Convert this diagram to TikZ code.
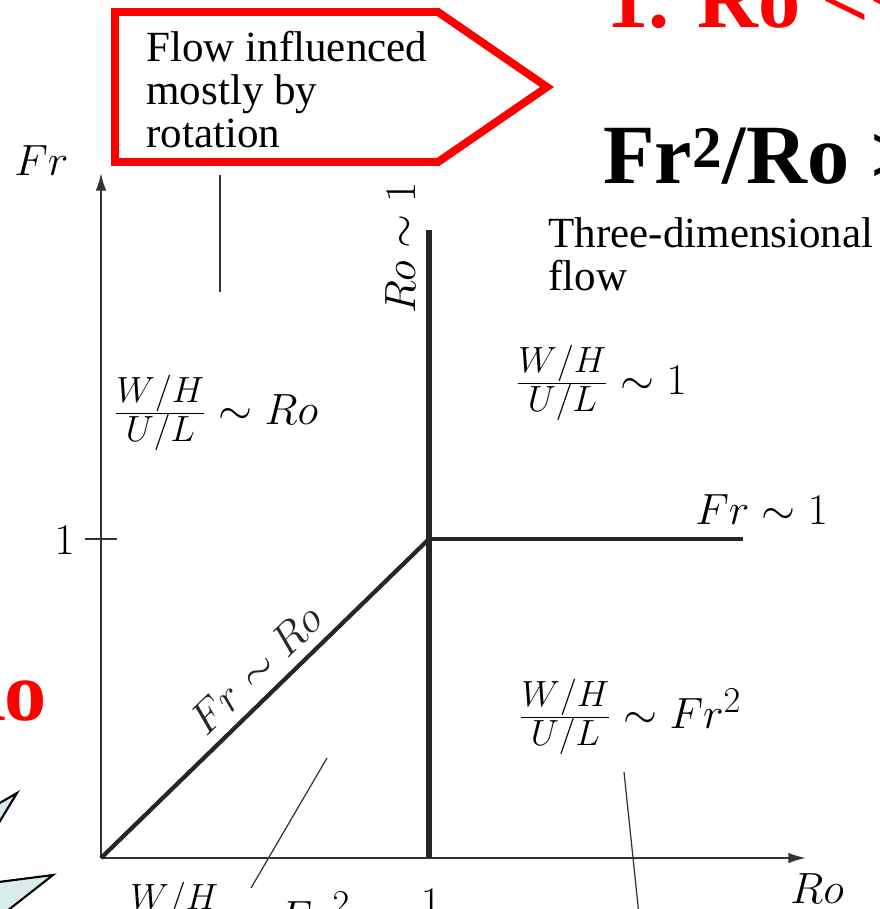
\documentclass[tikz,border=0pt]{standalone}
\usepackage{fontspec}
\usepackage{tikz}
\usetikzlibrary{arrows.meta}
\newfontfamily\slidefont{Liberation Serif}
\definecolor{starfill}{RGB}{216,236,238}
\newcommand{\figtext}{\slidefont\fontsize{24.5}{24.3}\selectfont}
\newcommand{\figmath}{\fontsize{24.88}{27}\selectfont}
\newcommand{\slidetext}{\slidefont\bfseries\fontsize{48}{50}\selectfont}
\tikzset{
  axis/.style={line width=1.1pt,black!80},
  regime/.style={line width=2.4pt,black!85},
  pointer/.style={line width=0.7pt,black!80},
  lbl/.style={inner sep=0,font=\figmath},
}

\begin{document}
\begin{tikzpicture}[x=0.02cm,y=-0.02cm,>={Latex[length=10pt,width=6pt]}]
  \useasboundingbox (0,0) rectangle (879,909);
  \clip (0,0) rectangle (879,909);
  % slide text round the figure
  \node[anchor=base west,inner sep=0,text=red,font=\slidetext] (ttl) at (606,28) {1. Ro <<};
  \node[anchor=base west,inner sep=0,font=\slidetext] (ratio) at (603,183) {Fr\textsuperscript{2}/Ro >};
  \node[anchor=base east,inner sep=0,text=red,font=\slidetext] (rored) at (47,720) {Ro};
  \draw[fill=starfill,line width=1.2pt] (-40,826) -- (17,793) -- (-40,887) -- (53,875)
    -- (-30,940) -- (-100,900) -- cycle;
  % callout
  \draw[red,line width=4.5pt] (115,12) -- (438,12) -- (547,87) -- (438,162) -- (115,162) -- cycle;
  \node[anchor=base west,align=left,inner sep=0,font=\figtext] (rot) at (146,147)
    {Flow influenced\\mostly by\\rotation};
  % axes
  \coordinate (O) at (101,858);
  \coordinate (xend) at (806,858);
  \coordinate (yend) at (101,173);
  \draw[axis,->] (O) -- (xend);
  \draw[axis,->] (O) -- (yend);
  \coordinate (ytl) at (85,539); \coordinate (ytr) at (117,539);
  \draw[axis] (ytl) -- (ytr);
  \node[lbl,anchor=base east] (yone) at (75,554) {$1$};
  \node[lbl,anchor=base] (xone) at (431,917) {$1$};
  \node[lbl,anchor=base west] (frlab) at (14,175) {$Fr$};
  \node[lbl,anchor=base west] (rolab) at (790,903) {$Ro$};
  % regime boundaries
  \coordinate (M) at (429,539);
  \coordinate (rtop) at (429,230);
  \coordinate (rbot) at (429,858);
  \coordinate (fend) at (743,539);
  \draw[regime,line width=3.4pt] (rbot) -- (rtop);
  \draw[regime] (M) -- (fend);
  \draw[regime] (O) -- node[lbl,sloped,above=6pt,pos=0.53] (frro) {$Fr\sim Ro$} (M);
  \node[lbl,rotate=90,anchor=base] (roone) at (415,248) {$Ro\sim 1$};
  \node[lbl,anchor=base west] (frone) at (695,524) {$Fr\sim 1$};
  % regimes
  \node[lbl,anchor=base west] (wro) at (114,424) {$\frac{W/H}{U/L}\sim Ro$};
  \node[lbl,anchor=base west] (wone) at (516,394) {$\frac{W/H}{U/L}\sim 1$};
  \node[lbl,anchor=base west] (wfr) at (519,728) {$\frac{W/H}{U/L}\sim Fr^2$};
  \node[lbl,anchor=base west] (wfrb) at (128,931) {$\frac{W/H}{U/L}\sim Fr^2$};
  \node[anchor=base west,align=left,inner sep=0,font=\figtext] (threed) at (548,290)
    {Three-dimensional\\flow};
  % pointers
  \coordinate (pa) at (220,175); \coordinate (pb) at (220,292);
  \coordinate (pc) at (327,758); \coordinate (pd) at (251,888);
  \coordinate (pe) at (624,772); \coordinate (pf) at (639,915);
  \draw[pointer] (pa) -- (pb);
  \draw[pointer] (pc) -- (pd);
  \draw[pointer] (pe) -- (pf);
\end{tikzpicture}
\end{document}
